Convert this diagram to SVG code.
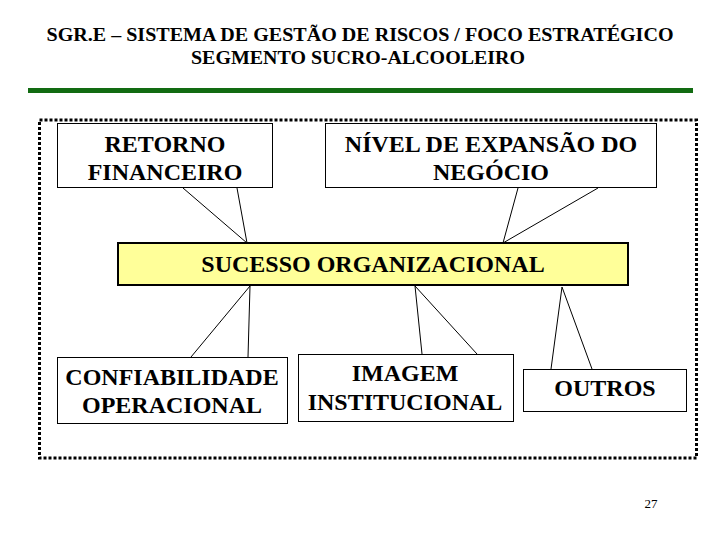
<svg xmlns="http://www.w3.org/2000/svg" width="720" height="540" viewBox="0 0 720 540">
<style>
.box{fill:#fff;stroke:#000;stroke-width:1}
.call{fill:none;stroke:#000;stroke-width:1}
</style>
<rect width="720" height="540" fill="#fff"/>
<g id="title" font-family="Liberation Serif, serif" font-weight="bold" text-anchor="middle">
<text x="360" y="41" font-size="19" textLength="627" lengthAdjust="spacingAndGlyphs">SGR.E – SISTEMA DE GESTÃO DE RISCOS / FOCO ESTRATÉGICO</text>
<text x="358" y="64" font-size="19" textLength="334" lengthAdjust="spacingAndGlyphs">SEGMENTO SUCRO-ALCOOLEIRO</text>
<rect x="28" y="88" width="665" height="5" fill="#126b12"/>
</g>
<rect x="39.5" y="120" width="657" height="338" fill="none" stroke="#000" stroke-width="3" stroke-dasharray="3 2"/>
<g font-family="Liberation Serif, serif" font-weight="bold" text-anchor="middle" font-size="24">
<g id="retorno">
<rect class="box" x="57.5" y="123.5" width="215" height="64"/>
<text x="165" y="152">RETORNO</text>
<text x="165" y="180">FINANCEIRO</text>
</g>
<g id="nivel">
<rect class="box" x="325.5" y="123.5" width="331" height="64"/>
<text x="491" y="152">NÍVEL DE EXPANSÃO DO</text>
<text x="491" y="180">NEGÓCIO</text>
</g>
<g id="sucesso">
<rect x="118" y="243" width="510" height="42" fill="#ffff99" stroke="#000" stroke-width="2"/>
<text x="373" y="272">SUCESSO ORGANIZACIONAL</text>
</g>
<g id="confiabilidade">
<rect class="box" x="57.5" y="357.5" width="230" height="66"/>
<text x="172" y="385">CONFIABILIDADE</text>
<text x="172" y="413">OPERACIONAL</text>
</g>
<g id="imagem">
<rect class="box" x="298.5" y="354.5" width="215" height="67"/>
<text x="405" y="381">IMAGEM</text>
<text x="405" y="410">INSTITUCIONAL</text>
</g>
<g id="outros">
<rect class="box" x="523.5" y="369.5" width="163" height="42"/>
<text x="605" y="396">OUTROS</text>
</g>
</g>
<g id="connectors">
<polyline class="call" points="183,188 247,243 237,188"/>
<polyline class="call" points="518,188 503,243 598,188"/>
<polyline class="call" points="191,357 250,286 248,357"/>
<polyline class="call" points="422,354 415,286 477,354"/>
<polyline class="call" points="551,369 562,287 592,369"/>
</g>
<text x="651" y="508" font-family="Liberation Serif, serif" font-size="13" text-anchor="middle">27</text>
</svg>
